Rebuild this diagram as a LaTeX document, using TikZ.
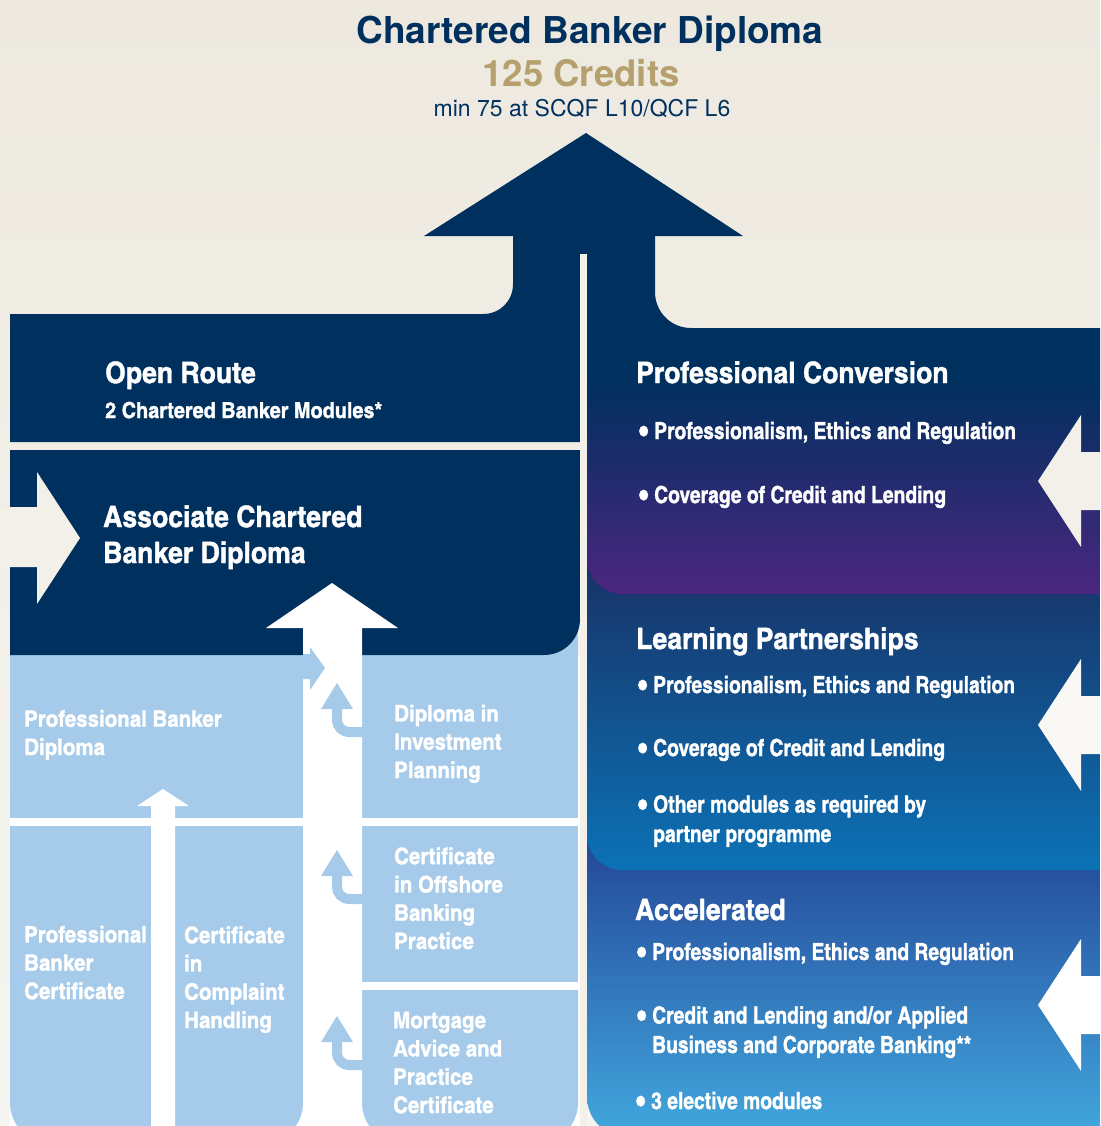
\documentclass[tikz,border=0pt]{standalone}
\usepackage{fontspec}
\setmainfont{TeX Gyre Heros}
\newfontfamily\condfont[Extension=.otf,UprightFont=*-bold,FakeBold=1.2]{texgyreheroscn}
\newfontfamily\widefont[Extension=.otf,UprightFont=*-bold,FakeStretch=1.1,FakeBold=1.3]{texgyreheroscn}
\newcommand{\itembullet}{\llap{\raisebox{-3.5pt}{\scalebox{1.35}{\textbullet}}\hspace{6pt}}}

\definecolor{navy}{RGB}{0,48,94}
\definecolor{credgold}{RGB}{181,160,110}
\definecolor{paleblue}{RGB}{166,203,234}
\definecolor{cream}{RGB}{243,240,233}
\definecolor{bgtop}{RGB}{237,233,223}
\definecolor{bgbot}{RGB}{246,245,241}
\definecolor{pcbot}{RGB}{75,38,128}
\definecolor{lptop}{RGB}{24,50,102}
\definecolor{lpbot}{RGB}{12,114,182}
\definecolor{actop}{RGB}{34,68,150}
\definecolor{acbot}{RGB}{66,168,222}

\begin{document}
\begin{tikzpicture}[
  x=1pt, y=-1pt,
  every node/.style={inner sep=0pt},
  heading/.style={anchor=base west, text=white, align=left, font=\widefont\fontsize{29.5}{36}\selectfont},
  subtext/.style={anchor=base west, text=white, font=\widefont\fontsize{22}{28}\selectfont},
  modtext/.style={anchor=base west, text=white, align=left, font=\widefont\fontsize{22.7}{28.3}\selectfont},
  itemtext/.style={anchor=base west, text=white, align=left, font=\condfont\fontsize{23.5}{29.5}\selectfont},
]

\useasboundingbox (0,0) rectangle (1100,1126);
\clip (0,0) rectangle (1100,1126);
\shade[top color=bgtop, bottom color=bgbot] (0,0) rectangle (1100,1126);

% right column, back to front
\shade[top color=actop, bottom color=acbot] (587,830) -- (1100,830) -- (1100,1137) -- (627,1137)
  .. controls (605,1137) and (587,1119) .. (587,1097) -- cycle;
\shade[top color=lptop, bottom color=lpbot] (587,560) -- (1100,560) -- (1100,870) -- (622,870)
  .. controls (603,870) and (587,854) .. (587,835) -- cycle;

% big arrow with open route and the top of professional conversion
\fill[navy] (10,442) -- (10,314) -- (483,314) .. controls (500,314) and (513,301) .. (513,284)
  -- (513,236) -- (424,236) -- (586,133) -- (743,236) -- (655,236) -- (655,292)
  .. controls (655,312) and (671,328) .. (691,328) -- (1100,328) -- (1100,400) -- (580,400)
  -- (580,442) -- cycle;
\shade[top color=navy, bottom color=pcbot] (587,380) -- (1100,380) -- (1100,594) -- (622,594)
  .. controls (603,594) and (587,578) .. (587,559) -- cycle;

% pale blue modules
\fill[white] (10,655) rectangle (580,1126);
\fill[paleblue] (362,620) rectangle (578,818);
\fill[paleblue] (10,655) rectangle (303,818);
\fill[paleblue] (362,826) rectangle (578,982);
\fill[paleblue] (362,990) -- (578,990) -- (578,1103) .. controls (578,1125) and (560,1143) .. (538,1143)
  -- (402,1143) .. controls (380,1143) and (362,1125) .. (362,1103) -- cycle;
\fill[paleblue] (10,826) -- (303,826) -- (303,1103) .. controls (303,1125) and (285,1143) .. (263,1143)
  -- (50,1143) .. controls (28,1143) and (10,1125) .. (10,1103) -- cycle;

% associate chartered banker diploma
\fill[navy] (10,450) -- (580,450) -- (580,619) .. controls (580,639) and (564,655) .. (544,655)
  -- (10,655) -- cycle;
\fill[cream] (0,507) -- (37,507) -- (37,472) -- (80,538) -- (37,604) -- (37,567) -- (0,567) -- cycle;

% divider down the middle
\fill[cream] (580,254) rectangle (587,1126);

% upward white arrows
\fill[white] (303,1126) -- (303,628) -- (266,628) -- (332,583) -- (398,628) -- (362,628) -- (362,1126) -- cycle;
\fill[white] (151,1126) -- (151,806) -- (137,806) -- (163,789) -- (189,806) -- (175,806) -- (175,1126) -- cycle;
\fill[paleblue] (303,654) -- (310,654) -- (310,647) -- (325,668) -- (310,690) -- (310,679) -- (303,679) -- cycle;
\foreach \dy in {0,167,333} {
  \draw[paleblue, line width=10] (363,732+\dy) -- (350,732+\dy)
    .. controls (342,732+\dy) and (337,727+\dy) .. (337,719+\dy) -- (337,708+\dy);
  \fill[paleblue] (321,709+\dy) -- (337,683+\dy) -- (353,709+\dy) -- cycle;
}

% entry arrows on the right
\foreach \ty/\col in {481/cream, 725/cream!50!white, 1005/white}
  \fill[\col] (1100,\ty-29) -- (1081,\ty-29) -- (1081,\ty-66) -- (1038,\ty) -- (1081,\ty+66)
    -- (1081,\ty+29) -- (1100,\ty+29) -- cycle;

% title
\node[anchor=base, text=navy, font=\bfseries\fontsize{37}{40}\selectfont] (cbd) at (590,44) {Chartered Banker Diploma};
\node[anchor=base, text=credgold, font=\bfseries\fontsize{36.5}{40}\selectfont] (credits) at (581,87) {125 Credits};
\node[anchor=base, text=navy, font=\fontsize{23}{26}\selectfont] (minlevel) at (582,117) {min 75 at SCQF L10/QCF L6};

% left column (multi-line nodes sit on their last baseline)
\node[heading] (openroute) at (105,383) {Open Route};
\node[subtext] (openmods) at (105,418) {2 Chartered Banker Modules*};
\node[heading] (acbd) at (103,563) {Associate Chartered\\Banker Diploma};
\node[modtext] (pbd) at (24,755) {Professional Banker\\Diploma};
\node[modtext] (dip) at (394,778) {Diploma in\\Investment\\Planning};
\node[modtext] (cobp) at (394,949) {Certificate\\in Offshore\\Banking\\Practice};
\node[modtext] (mapc) at (393,1113) {Mortgage\\Advice and\\Practice\\Certificate};
\node[modtext] (pbc) at (24,999) {Professional\\Banker\\Certificate};
\node[modtext] (cch) at (184,1028) {Certificate\\in\\Complaint\\Handling};

% right column
\node[heading] (pconv) at (636,383) {Professional Conversion};
\node[itemtext] (pcone) at (654,439) {\itembullet Professionalism, Ethics and Regulation};
\node[itemtext] (pctwo) at (654,503) {\itembullet Coverage of Credit and Lending};
\node[heading] (lpart) at (636,649) {Learning Partnerships};
\node[itemtext] (lpone) at (653,693) {\itembullet Professionalism, Ethics and Regulation};
\node[itemtext] (lptwo) at (653,756) {\itembullet Coverage of Credit and Lending};
\node[itemtext] (lpthree) at (653,842) {\itembullet Other modules as required by\\partner programme};
\node[heading] (accel) at (635,920) {Accelerated};
\node[itemtext] (acone) at (652,960) {\itembullet Professionalism, Ethics and Regulation};
\node[itemtext] (actwo) at (652,1053) {\itembullet Credit and Lending and/or Applied\\Business and Corporate Banking**};
\node[itemtext] (acthree) at (651,1109) {\itembullet 3 elective modules};

\end{tikzpicture}
\end{document}
